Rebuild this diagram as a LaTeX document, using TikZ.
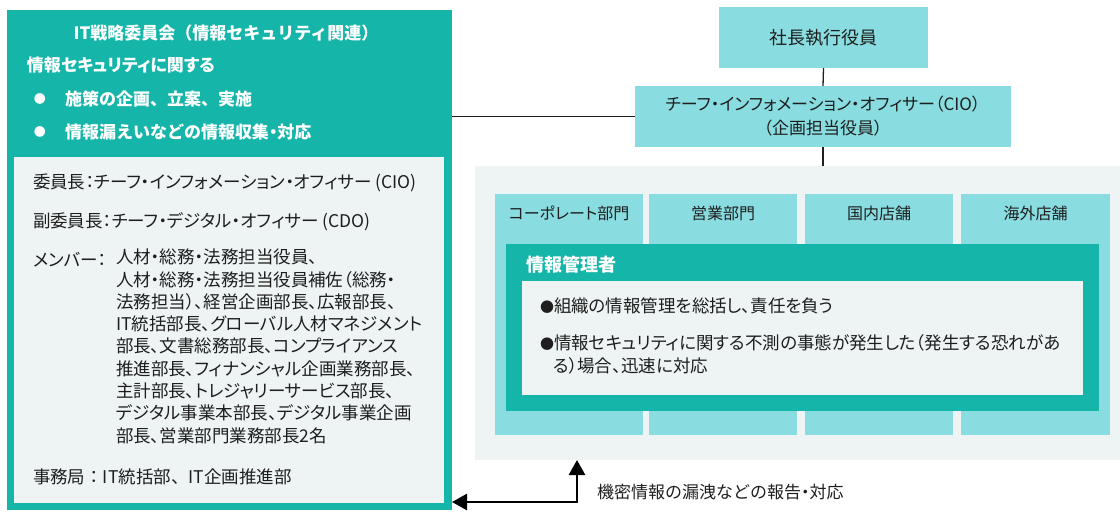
\documentclass[tikz,border=0pt]{standalone}
\usepackage{fontspec}
\setmainfont{Noto Sans CJK JP}[RawFeature=+palt]
\newfontfamily\fw{Noto Sans CJK JP}
\usetikzlibrary{arrows.meta}
\definecolor{teal1}{HTML}{16B5AA}
\definecolor{cyan1}{HTML}{89DCE0}
\definecolor{grey1}{HTML}{EEF4F4}
\definecolor{ink}{HTML}{1E1E1E}
\newcommand\smalldot{{\fontsize{14}{14}\selectfont●}}
\newcommand\nd{{\rmfamily ・}}
\tikzset{
  box/.style={inner sep=0pt, outer sep=0pt, anchor=center, draw=none},
  txt/.style={inner sep=0pt, outer sep=0pt, text=ink, font=\fontsize{17.5}{22.3}\selectfont},
  wtxt/.style={inner sep=0pt, outer sep=0pt, text=white, font=\fw\bfseries\fontsize{17}{22}\selectfont},
  cbox/.style={box, fill=cyan1, text=ink},
  col/.style={box, fill=cyan1, minimum width=148pt, minimum height=241pt},
  hdr/.style={txt, font=\fontsize{16}{20}\selectfont},
  conn/.style={draw=ink, line width=1.3pt},
  arr/.style={draw=black, line width=2.6pt, {Triangle[length=15pt,width=16pt]}-{Triangle[length=15pt,width=16pt]}},
}
\begin{document}
\begin{tikzpicture}[x=1pt,y=-1pt]
\useasboundingbox (0,0) rectangle (1120,512);
% left committee panel
\node[box, fill=teal1, minimum width=445pt, minimum height=500pt] (lout) at (229.5,260) {};
\node[box, fill=grey1, minimum width=430pt, minimum height=346pt] (lin) at (229,330) {};
\node[wtxt] (ttl) at (226,33) {IT戦略委員会（情報セキュリティ関連）};
\node[wtxt, anchor=west, font=\bfseries\fontsize{17}{22}\selectfont] (sub) at (27,65) {情報セキュリティに関する};
\node[wtxt, font=\fontsize{12}{12}\selectfont] (b1) at (40,99) {●};
\node[wtxt, anchor=west] (t1) at (65,99) {施策の企画、立案、実施};
\node[wtxt, font=\fontsize{12}{12}\selectfont] (b2) at (40,132) {●};
\node[wtxt, anchor=west] (t2) at (65,132) {情報漏えいなどの情報収集\nd 対応};
\node[txt, anchor=west] (chair) at (33,183) {委員長：チーフ・インフォメーション・オフィサー (CIO)};
\node[txt, anchor=west] (vice) at (33,222) {副委員長：チーフ・デジタル・オフィサー (CDO)};
\node[txt, anchor=west] (memlab) at (33,260) {メンバー：};
\node[txt, anchor=north west, align=left] (mem) at (116,249) {人材・総務・法務担当役員、\\人材・総務・法務担当役員補佐（総務・\\法務担当）、経営企画部長、広報部長、\\IT統括部長、グローバル人材マネジメント\\部長、文書総務部長、コンプライアンス\\推進部長、フィナンシャル企画業務部長、\\主計部長、トレジャリーサービス部長、\\デジタル事業本部長、デジタル事業企画\\部長、営業部門業務部長2名};
\node[txt, anchor=west, font=\fw\fontsize{17.5}{22}\selectfont] (sec) at (33,477) {事務局：IT統括部、IT企画推進部};
% right org chart
\node[cbox, minimum width=209pt, minimum height=61pt, font=\fontsize{18}{22}\selectfont] (pres) at (823.5,37.5) {社長執行役員};
\node[cbox, minimum width=376pt, minimum height=61pt, align=center, font=\fontsize{17}{24}\selectfont] (cio) at (823,116.5) {チーフ・インフォメーション・オフィサー（CIO）\\（企画担当役員）};
\node[box, fill=grey1, minimum width=645pt, minimum height=294pt] (panel) at (797.5,313) {};
\node[col] (c1) at (569,314.5) {};
\node[col] (c2) at (723,314.5) {};
\node[col] (c3) at (879,314.5) {};
\node[col, minimum width=149pt] (c4) at (1035.5,314.5) {};
\node[hdr] (h1) at ([yshift=-19pt]c1.north) {コーポレート部門};
\node[hdr] (h2) at ([yshift=-19pt]c2.north) {営業部門};
\node[hdr] (h3) at ([yshift=-19pt]c3.north) {国内店舗};
\node[hdr] (h4) at ([yshift=-19pt]c4.north) {海外店舗};
\node[box, fill=teal1, minimum width=593pt, minimum height=167pt] (mgr) at (802.5,327.5) {};
\node[wtxt, anchor=west, font=\bfseries\fontsize{18}{22}\selectfont] (mgrt) at (526,265) {情報管理者};
\node[box, fill=grey1, minimum width=561pt, minimum height=114pt] (mgrin) at (802.5,338) {};
\node[txt, anchor=west] (m1) at (540,306) {\smalldot 組織の情報管理を総括し、責任を負う};
\node[txt, anchor=north west, align=left, font=\fontsize{17.5}{23}\selectfont] (m2) at (540,335) {\smalldot 情報セキュリティに関する不測の事態が発生した（発生する恐れがあ\\\hspace*{13pt}る）場合、迅速に対応};
% connectors
\draw[conn] (pres.south) -- (cio.north);
\draw[conn] (cio.south) -- (cio.south |- panel.north);
\draw[conn] (cio.west) -- (cio.west -| lout.east);
\coordinate (corner) at (577,502);
\draw[arr] (corner |- panel.south) -- (corner) -- (corner -| lout.east);
\node[txt, anchor=west, font=\fw\fontsize{17}{22}\selectfont] (rep) at (597,492) {機密情報の漏洩などの報告\nd 対応};
\end{tikzpicture}
\end{document}
